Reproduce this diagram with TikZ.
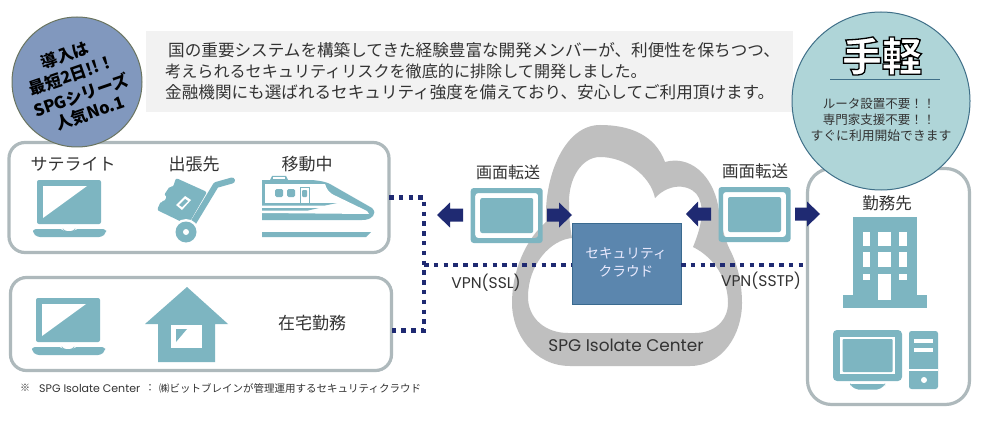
\documentclass[tikz,border=0pt]{standalone}
\usepackage{fontspec}
\setmainfont{Noto Sans CJK JP}
\newfontfamily\latinf{Poppins}
\usetikzlibrary{calc}
\definecolor{teal1}{HTML}{7DB5C1}
\definecolor{navy1}{HTML}{1F2A72}
\definecolor{frame1}{HTML}{AEB9BC}
\definecolor{cloud1}{HTML}{BFBFBF}
\definecolor{txt1}{HTML}{333333}
\definecolor{secfill}{HTML}{5B86AE}
\definecolor{secline}{HTML}{3A6A8F}
\definecolor{badgeLfill}{HTML}{8198BE}
\definecolor{badgeLline}{HTML}{6B7560}
\definecolor{badgeRfill}{HTML}{AFD5D8}
\definecolor{badgeRline}{HTML}{3F6F88}
\newcommand{\fs}[1]{\fontsize{#1}{#1}\selectfont}
\tikzset{
  x=1pt,y=-1pt,
  group/.style={draw=frame1,line width=3.2pt,fill=white,rounded corners=16pt,inner sep=0pt,outer sep=0pt,anchor=north west},
  dots/.style={navy1,line width=4.5pt,dash pattern=on 4.5pt off 5.3pt},
  icon/.style={fill=teal1,draw=none},
  hole/.style={fill=white,draw=none},
  lab/.style={text=txt1,inner sep=0pt,font=\fs{17}},
  gothic/.style={text=txt1,inner sep=0pt,font=\latinf\fs{15.5}},
  arrowf/.style={fill=navy1,draw=none},
  badgetext/.style={inner sep=0pt,rotate=19,text=black,font=\bfseries\fs{16.5}},
  sectext/.style={inner sep=0pt,text=white!92!blue,font=\fs{13.7}},
}
\newcommand{\laptop}[2]{%
  \begin{scope}[shift={(#1,#2)}]
    \fill[icon,rounded corners=2pt] (0,0) rectangle (64,44);
    \fill[hole] (6,6) -- (50,6) -- (6,38) -- cycle;
    \fill[icon,rounded corners=3pt] (-4,49) -- (26,49) -- (27,51) -- (37,51) -- (38,49) -- (69,49) -- (69,53) -- (65,57) -- (0,57) -- (-4,53) -- cycle;
  \end{scope}}
\newcommand{\device}[2]{%
  \begin{scope}[shift={(#1,#2)}]
    \fill[icon,even odd rule,rounded corners=3pt] (0,0) rectangle (72,55) (4.5,5) rectangle (67.5,50);
    \fill[icon,rounded corners=2pt] (9.5,10) rectangle (62.5,45);
  \end{scope}}
\newcommand{\blockarrow}[4]{\fill[arrowf] (#1,#4-6.5) -- (#2,#4-6.5) -- (#2,#4-12.5) -- (#3,#4) -- (#2,#4+12.5) -- (#2,#4+6.5) -- (#1,#4+6.5) -- cycle;}
\begin{document}
\begin{tikzpicture}
\useasboundingbox (0,0) rectangle (1000,422);
\fill[white] (0,0) rectangle (1000,422);

% grey text panel
\node[fill=black!5,minimum width=647pt,minimum height=81pt,inner sep=0pt,outer sep=0pt,anchor=north west] (panel) at (146,31) {};
\node[lab,font=\fs{16.6},anchor=west] (t1) at (168,50) {国の重要システムを構築してきた経験豊富な開発メンバーが、利便性を保ちつつ、};
\node[lab,font=\fs{16.1},anchor=west] (t2) at (165,71) {考えられるセキュリティリスクを徹底的に排除して開発しました。};
\node[lab,font=\fs{16.6},anchor=west] (t3) at (165,92) {金融機関にも選ばれるセキュリティ強度を備えており、安心してご利用頂けます。};

% cloud
\fill[cloud1,even odd rule]
  (665,162) .. controls (690,155) and (712,175) .. (718,205)
  .. controls (721,225) and (725,240) .. (730,250)
  .. controls (738,265) and (742,285) .. (742,303)
  .. controls (742,335) and (722,366) .. (690,366)
  -- (570,366)
  .. controls (535,366) and (512,335) .. (512,303)
  .. controls (512,272) and (525,240) .. (546,222)
  .. controls (544,175) and (565,125) .. (600,125)
  .. controls (630,125) and (655,135) .. (665,162) -- cycle
  (600,157) .. controls (582,157) and (568,178) .. (569,205)
  .. controls (569,215) and (570,228) .. (572,238)
  .. controls (550,240) and (528,265) .. (528,297)
  .. controls (528,318) and (545,333) .. (568,333)
  -- (695,333)
  .. controls (715,333) and (728,320) .. (728,303)
  .. controls (728,280) and (715,258) .. (693,247)
  .. controls (700,230) and (705,212) .. (699,198)
  .. controls (694,186) and (672,180) .. (655,198)
  .. controls (650,175) and (625,157) .. (600,157) -- cycle;
\node[gothic,font=\latinf\fs{16.9}] (cloudname) at (626,345) {SPG Isolate Center};

% groups
\node[group,minimum width=380pt,minimum height=110pt] (boxA) at (9,142.5) {};
\node[group,minimum width=381pt,minimum height=93pt] (boxB) at (10.5,277.5) {};
\node[group,minimum width=162pt,minimum height=236pt,rounded corners=24pt] (boxC) at (807.5,168.5) {};

% secure cloud box
\node[fill=secfill,draw=secline,line width=.8pt,minimum width=109pt,minimum height=81pt,inner sep=0pt,outer sep=0pt,anchor=north west] (sec) at (572,223) {};
\node[sectext] (sec1) at (626,254) {セキュリティ};
\node[sectext] (sec2) at (626,271) {クラウド};

% connectors
\coordinate (c3) at (424,265);
\coordinate (c1) at (boxA.east -| c3);
\coordinate (portB) at ($(boxB.east)+(0,6.5)$);
\coordinate (c2) at (portB -| c3);
\draw[dots] (boxA.east) -- (c1) -- (c2) -- (portB);
\draw[dots] (c3) -- (sec.west |- c3);
\draw[dots] (sec.east |- c3) -- (boxC.west |- c3);

% devices and arrows
\device{470.7}{188}
\device{718.5}{187}
\blockarrow{463}{450}{437}{215}
\blockarrow{547}{559}{572}{215}
\blockarrow{711}{698}{686}{214}
\blockarrow{795}{807}{820}{214}

% labels
\node[lab,font=\fs{16}] (scr1) at (508,172) {画面転送};
\node[lab,font=\fs{16.5}] (scr2) at (755,171) {画面転送};
\node[gothic] (vpn1) at (486,283) {VPN(SSL)};
\node[gothic] (vpn2) at (761,281) {VPN(SSTP)};

\node[lab] (l1) at (73,164) {サテライト};
\node[lab] (l2) at (194,164) {出張先};
\node[lab] (l3) at (307,164) {移動中};
\node[lab] (l4) at (312,323) {在宅勤務};
\node[lab,font=\fs{16.5}] (l5) at (887,203) {勤務先};

% laptops
\laptop{37}{180}
\laptop{36}{298}

% cart
\fill[icon,rounded corners=2pt] (176,178) -- (207,192) -- (188,225) -- (157,210) -- (161,201) -- (164,202) -- (167,196) -- (164,195) -- (170,186) -- (173,187) -- cycle;
\fill[hole] (185,196) -- (191,200) -- (182,210) -- (176,205) -- cycle;
\fill[icon] (185,199) -- (188,201) -- (182,207) -- (179,205) -- cycle;
\draw[teal1,line width=6pt,line cap=round,line join=round] (232,180.5) -- (216,185) -- (193,223);
\fill[hole] (186,232) circle (13);
\fill[icon] (186,232) circle (10.5);
\fill[hole] (186,232) circle (3);

% train
\fill[icon] (262,180) -- (312,180) .. controls (322,181) and (326,182) .. (330,184) -- (372,208) .. controls (375,211) and (375,214) .. (373,216) .. controls (370,219) and (367,220) .. (362,220) -- (262,220) -- cycle;
\fill[hole] (265,184) -- (325,184) .. controls (327,190) and (329,193) .. (336,196) -- (367,211) -- (369,214) -- (262,213) -- (262,203) -- (265,203) -- cycle;
\fill[icon] (262,203) -- (337,203) -- (325,205.5) -- (262,205.5) -- cycle;
\fill[icon] (262,208) -- (319,208) -- (308,210.5) -- (262,210.5) -- cycle;
\fill[icon] (270,180) -- (272,176) -- (286,176) -- (288,180) -- cycle;
\fill[hole] (273,177.5) rectangle (285,179);
\fill[icon,rounded corners=1.5pt] (275,189) rectangle (283,197);
\fill[icon,rounded corners=1.5pt] (287,189) rectangle (295,197);
\draw[teal1,line width=.7pt] (300.5,203) -- (300.5,187) -- (309.5,187) -- (309.5,203);
\fill[icon,rounded corners=1pt] (302,190) rectangle (307,197);
\fill[icon] (262,232) -- (371,232) -- (366,237) -- (262,237) -- cycle;

% house
\fill[icon] (187,287) -- (228,324) -- (215,324) -- (215,362) -- (158,362) -- (158,324) -- (145,324) -- cycle;
\fill[hole] (171,325) rectangle (202,348);
\fill[icon] (176,329) -- (187,329) -- (176,342) -- cycle;

% building
\fill[icon] (853,217) rectangle (917,295);
\fill[icon] (843,295) rectangle (927,308);
\foreach \xa/\xb in {863/870,878/891,899/907} {
  \fill[hole] (\xa,232) rectangle (\xb,246);
  \fill[hole] (\xa,252) rectangle (\xb,267);
}
\fill[hole] (863,274) rectangle (870,280);
\fill[hole] (899,274) rectangle (907,280);
\fill[hole] (878,274) rectangle (891,300);

% pc
\fill[icon,rounded corners=4pt] (833,330) rectangle (902,381);
\fill[hole] (840,337) rectangle (895,374);
\fill[icon,rounded corners=1pt] (842.5,339) rectangle (892.5,372);
\fill[icon,rounded corners=2pt] (850,384) -- (885,384) -- (885,385) -- (879,389.5) -- (856,389.5) -- (850,385) -- cycle;
\fill[icon,rounded corners=2.5pt] (909,331) rectangle (938,389);
\fill[hole] (914,339) rectangle (933,342.5);
\fill[hole] (914,348) rectangle (933,351.5);
\fill[hole] (909,369) rectangle (938,370.5);
\fill[hole] (924,380) circle (3);

% footnote
\node[lab,font=\fs{10},anchor=west] (foot0) at (20,388) {※};
\node[gothic,font=\latinf\fs{11},anchor=west] (foot1) at (39,388) {SPG Isolate Center};
\node[lab,font=\fs{10},anchor=west] (foot2) at (145,388) {：};
\node[lab,font=\fs{10.5},anchor=west] (foot3) at (159,388) {㈱ビットブレインが管理運用するセキュリティクラウド};

% left badge
\node[circle,fill=badgeLfill,draw=badgeLline,line width=1pt,minimum size=130pt,inner sep=0pt,outer sep=0pt] (badgeL) at (77,82) {};
\node[badgetext] (b1) at (65,55) {導入は};
\node[badgetext] (b2) at (72,75) {最短2日!!！};
\node[badgetext] (b3) at (81,95) {SPGシリーズ};
\node[badgetext] (b4) at (90,113) {人気No.1};

% right badge
\node[circle,fill=badgeRfill,draw=badgeRline,line width=1pt,minimum size=178pt,inner sep=0pt,outer sep=0pt] (badgeR) at (881,101) {};
\node[inner sep=0pt,font=\bfseries\fs{40}] (easy) at (882,56) {\special{pdf:code q 2 Tr 1.3 w 0 0 0 RG 1 1 1 rg}手軽\special{pdf:code Q}};
\coordinate (ruleL) at (830,79);
\coordinate (ruleR) at (940,79);
\draw[badgeRline,line width=.6pt] (ruleL) -- (ruleR);
\node[lab,font=\fs{12.5}] (r1) at (879,104) {ルータ設置不要！！};
\node[lab,font=\fs{12.5}] (r2) at (879,120) {専門家支援不要！！};
\node[lab,font=\fs{12.8}] (r3) at (881,136) {すぐに利用開始できます};
\end{tikzpicture}
\end{document}
